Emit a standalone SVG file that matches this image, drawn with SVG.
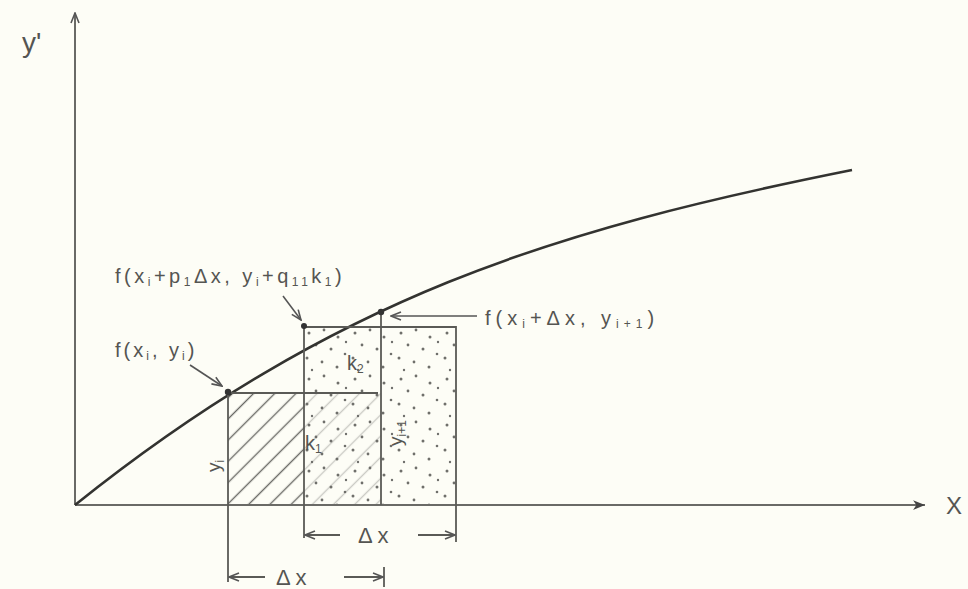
<svg xmlns="http://www.w3.org/2000/svg" width="968" height="589" viewBox="0 0 968 589">
<style>
.ax{stroke:#6a6a66;stroke-width:2;fill:none}
.ln{stroke:#5a5a56;stroke-width:1.8;fill:none}
.cv{stroke:#333330;stroke-width:2.6;fill:none}
.ptr{stroke:#555;stroke-width:1.6;fill:none}
.t{font-family:"Liberation Sans",Arial,sans-serif;fill:#555552;font-size:19px}
.big{font-size:22px}
</style>
<defs>
<marker id="ah" viewBox="0 0 12 10" refX="11" refY="5" markerWidth="12" markerHeight="10" markerUnits="userSpaceOnUse" orient="auto">
<path d="M1,1 L11,5 L1,9" fill="none" stroke="#555" stroke-width="1.6"/>
</marker>
<marker id="ahf" viewBox="0 0 12 10" refX="11" refY="5" markerWidth="13" markerHeight="11" markerUnits="userSpaceOnUse" orient="auto">
<path d="M0,0.5 L11,5 L0,9.5 L3,5 Z" fill="#444"/>
</marker>
<pattern id="dots" width="46" height="46" patternUnits="userSpaceOnUse" x="304" y="327">
<g fill="#6f6f6b">
<circle cx="5" cy="6" r="1.5"/><circle cx="20" cy="3" r="1.4"/><circle cx="34" cy="10" r="1.5"/>
<circle cx="12" cy="18" r="1.4"/><circle cx="27" cy="22" r="1.5"/><circle cx="41" cy="27" r="1.3"/>
<circle cx="3" cy="31" r="1.5"/><circle cx="18" cy="35" r="1.4"/><circle cx="33" cy="40" r="1.5"/>
<circle cx="8" cy="43" r="1.2"/><circle cx="42" cy="15" r="1.2"/>
</g>
</pattern>
<pattern id="hatch" width="15" height="15" patternUnits="userSpaceOnUse" patternTransform="rotate(-45)">
<line x1="0" y1="7.5" x2="15" y2="7.5" stroke="#6a6a66" stroke-width="1.4"/>
</pattern>
</defs>
<rect width="968" height="589" fill="#fdfdf6"/>

<g id="fills">
<rect x="304" y="327" width="152" height="178" fill="url(#dots)"/>
<rect x="228" y="393" width="76" height="112" fill="url(#hatch)"/>
<rect x="304" y="393" width="77" height="112" fill="url(#hatch)" opacity="0.35"/>
</g>

<g id="axes">
<line class="ax" x1="75" y1="505" x2="75" y2="13" marker-end="url(#ah)"/>
<line class="ax" x1="75" y1="505" x2="925" y2="505" marker-end="url(#ahf)"/>
<text class="t" x="22" y="52" style="font-size:28px">y'</text>
<text class="t" x="946" y="514" style="font-size:24px">X</text>
</g>

<g id="curve">
<path class="cv" d="M75,505 C335,297 552,230 852,170"/>
</g>

<g id="rects">
<path class="ln" d="M228,393 L378,393"/>
<path class="ln" d="M304,327 L456,327 L456,505"/>
<path class="ln" d="M304,326 L304,538"/>
<path class="ln" d="M381,312 L381,505"/>
<path class="ln" d="M228,392 L228,582"/>
<circle cx="228" cy="392" r="3.2" fill="#333"/>
<circle cx="304" cy="326" r="3" fill="#333"/>
<circle cx="381" cy="312" r="3.2" fill="#333"/>
<text class="t" x="347" y="370" style="font-size:20px">k<tspan dy="3" font-size="12">2</tspan></text>
<text class="t" x="305" y="450" style="font-size:20px">k<tspan dy="3" font-size="12">1</tspan></text>
<text class="t" transform="translate(402,446) rotate(-90)" style="font-size:19px">y<tspan dy="4" font-size="12">i+1</tspan></text>
<text class="t" transform="translate(220,472) rotate(-90)" style="font-size:19px">y<tspan dy="4" font-size="12">i</tspan></text>
</g>

<g id="dims">
<path class="ln" d="M456,505 L456,542"/>
<line class="ln" x1="340" y1="535" x2="305" y2="535" marker-end="url(#ah)"/>
<line class="ln" x1="418" y1="535" x2="455" y2="535" marker-end="url(#ah)"/>
<text class="t big" x="358" y="543">Δ x</text>
<path class="ln" d="M384,567 L384,587"/>
<line class="ln" x1="265" y1="577" x2="229" y2="577" marker-end="url(#ah)"/>
<line class="ln" x1="344" y1="577" x2="383" y2="577" marker-end="url(#ah)"/>
<text class="t big" x="276" y="585">Δ x</text>
</g>

<g id="labels">
<text class="t" x="115" y="283" letter-spacing="3.5" style="font-size:20px">f(x<tspan dy="3" font-size="12">i</tspan><tspan dy="-3">+p</tspan><tspan dy="3" font-size="12">1</tspan><tspan dy="-3">Δx, y</tspan><tspan dy="3" font-size="12">i</tspan><tspan dy="-3">+q</tspan><tspan dy="3" font-size="12">11</tspan><tspan dy="-3">k</tspan><tspan dy="3" font-size="12">1</tspan><tspan dy="-3">)</tspan></text>
<line class="ptr" x1="283" y1="296" x2="301" y2="320" marker-end="url(#ah)"/>
<text class="t" x="115" y="357" letter-spacing="3" style="font-size:20px">f(x<tspan dy="3" font-size="12">i</tspan><tspan dy="-3">, y</tspan><tspan dy="3" font-size="12">i</tspan><tspan dy="-3">)</tspan></text>
<line class="ptr" x1="190" y1="365" x2="222" y2="386" marker-end="url(#ah)"/>
<text class="t" x="485" y="325" letter-spacing="5" style="font-size:20px">f(x<tspan dy="3" font-size="12">i</tspan><tspan dy="-3">+Δx, y</tspan><tspan dy="3" font-size="12">i+1</tspan><tspan dy="-3">)</tspan></text>
<line class="ptr" x1="477" y1="316" x2="391" y2="316" marker-end="url(#ah)"/>
</g>
</svg>
